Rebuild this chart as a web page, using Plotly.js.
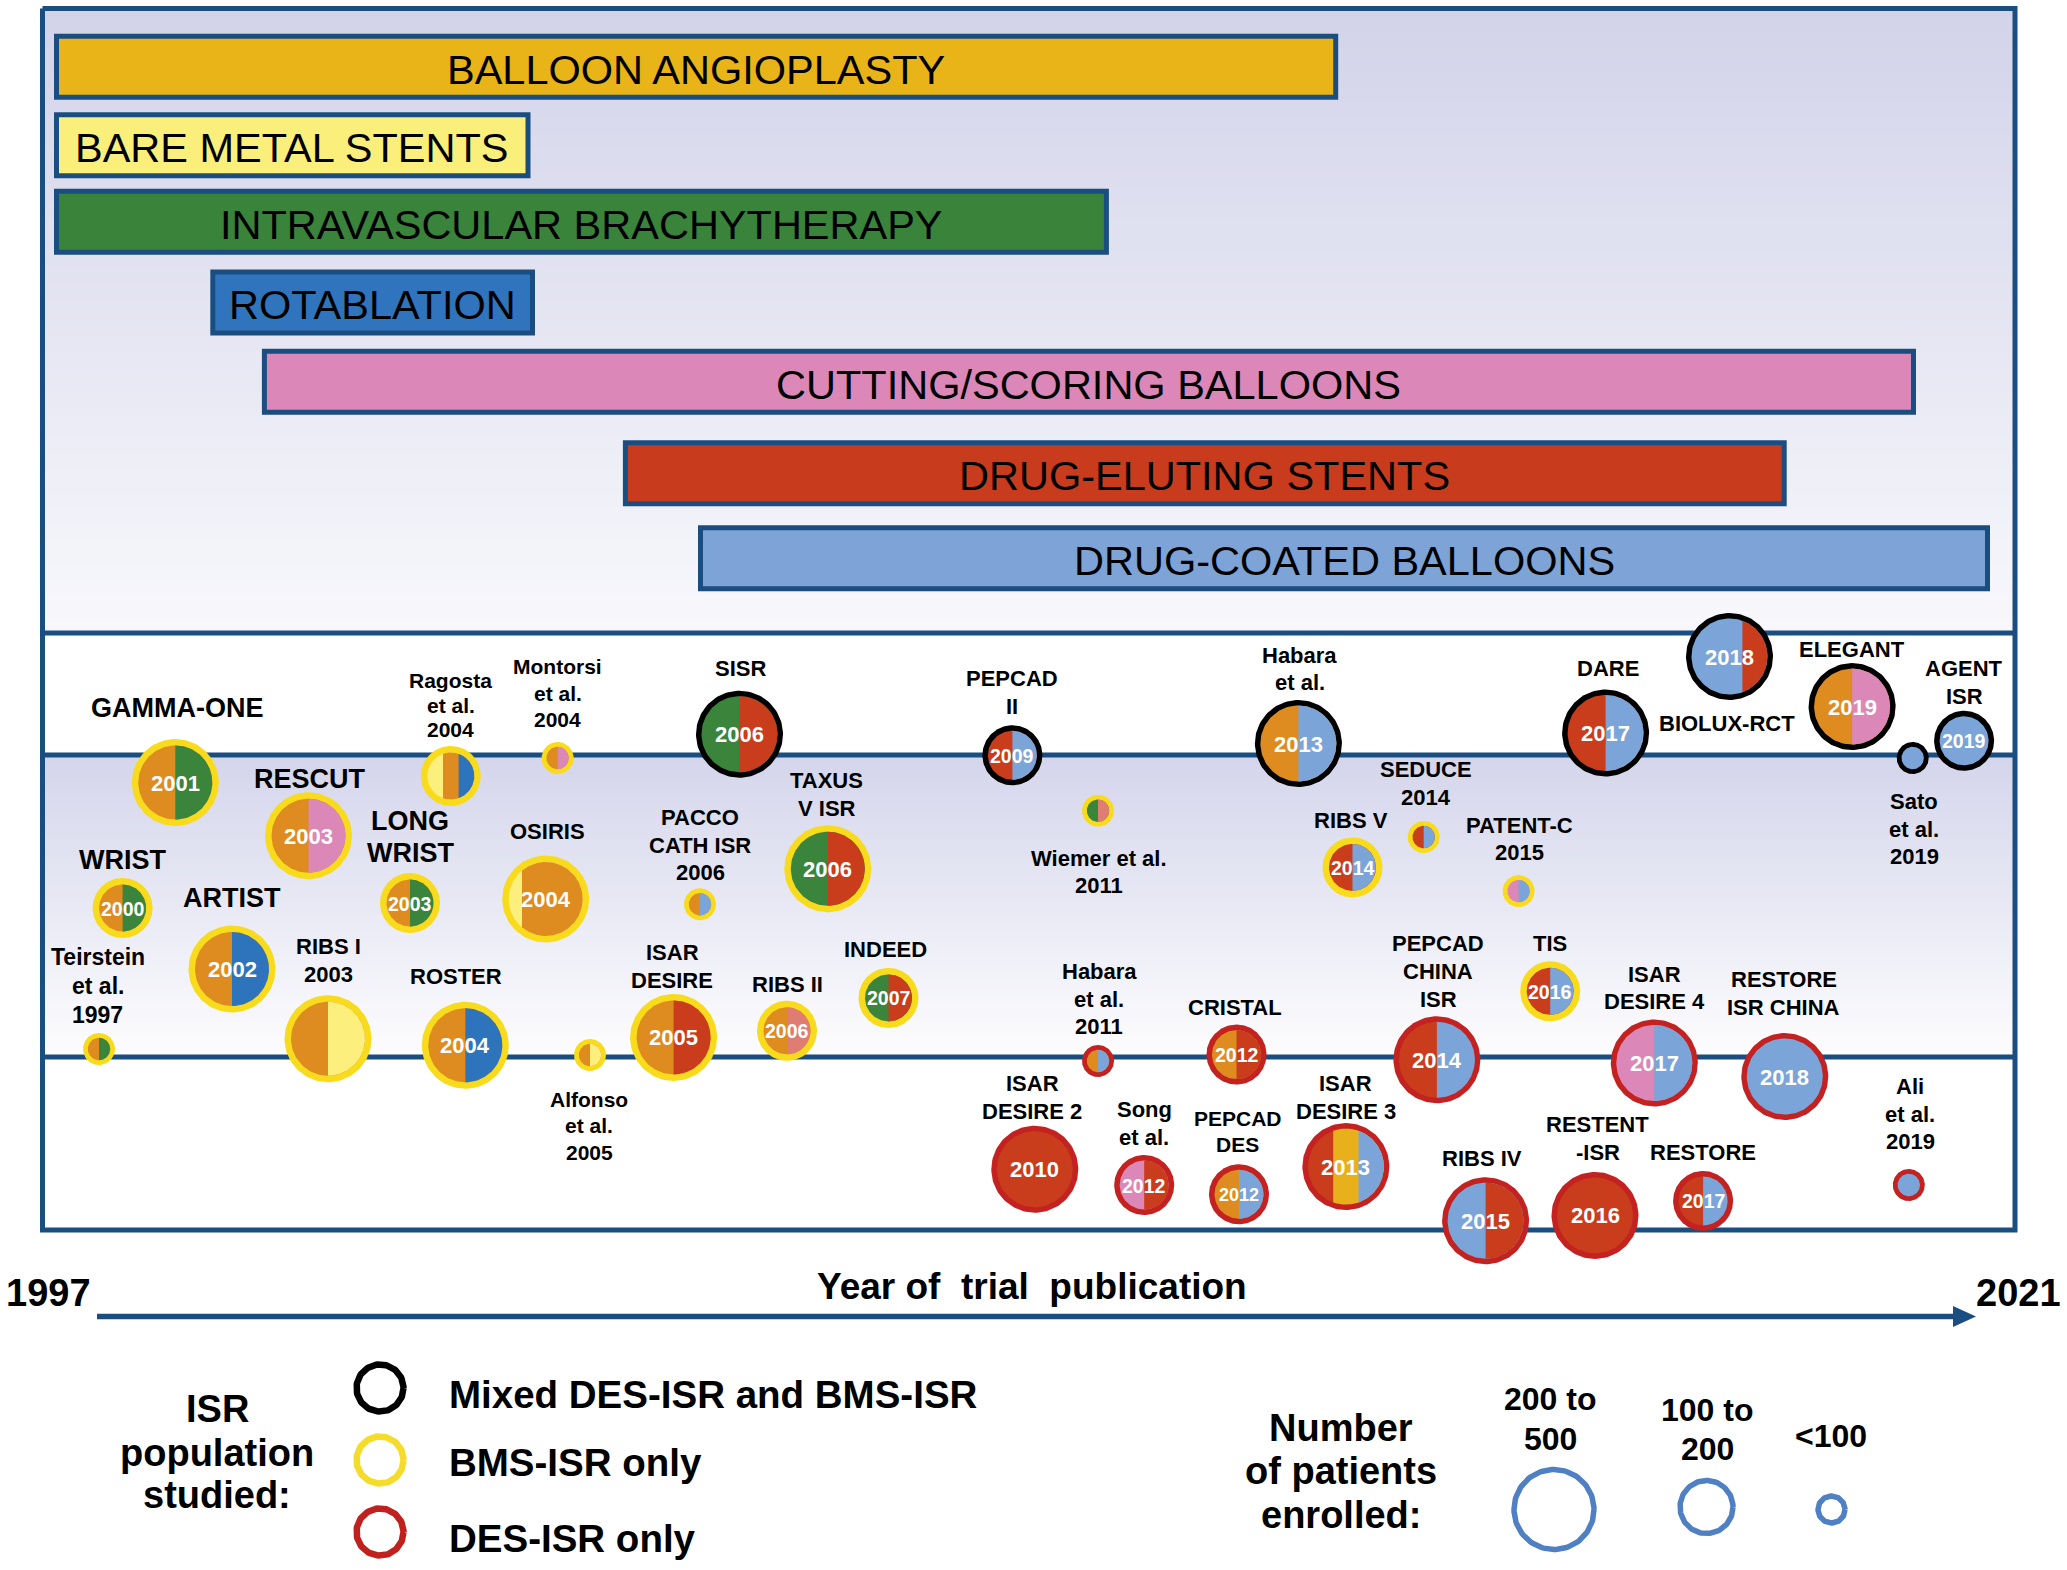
<!DOCTYPE html>
<html><head><meta charset="utf-8">
<script src="https://cdn.plot.ly/plotly-3.0.1.min.js"></script>
<style>html,body{margin:0;padding:0;background:#fff;}#chart{width:2067px;height:1570px;}</style>
</head><body><div id="chart"></div>
<script>
// ================= DATA =================
const therapies = ['BALLOON ANGIOPLASTY','BARE METAL STENTS','INTRAVASCULAR BRACHYTHERAPY','ROTABLATION','CUTTING/SCORING BALLOONS','DRUG-ELUTING STENTS','DRUG-COATED BALLOONS'];
const therapyColors = ['#e8b417','#fbef7c','#3a833a','#2f74bc','#db87b7','#c83b1c','#7da3d7'];
// span of each therapy along the timeline (layout units)
const therapyStart = [56.5, 56.5, 56.5, 212.8, 264.4, 625.4, 700.5];
const therapyEnd   = [1335.7, 528, 1106.4, 532.5, 1913.5, 1784.2, 1987.5];

const studyLabels = ['Teirstein\net al.\n1997','WRIST','GAMMA-ONE','ARTIST','RESCUT','RIBS I\n2003','LONG\nWRIST','Ragosta\net al.\n2004','ROSTER','OSIRIS',
 'Montorsi\net al.\n2004','Alfonso\net al.\n2005','ISAR\nDESIRE','PACCO\nCATH ISR\n2006','SISR','RIBS II','TAXUS\nV ISR','INDEED','PEPCAD\nII','Wiemer et al.\n2011',
 'Habara\net al.\n2011','ISAR\nDESIRE 2','Song\net al.','CRISTAL','PEPCAD\nDES','Habara\net al.','ISAR\nDESIRE 3','RIBS V','SEDUCE\n2014','PEPCAD\nCHINA\nISR',
 'PATENT-C\n2015','RIBS IV','TIS','RESTENT\n-ISR','DARE','ISAR\nDESIRE 4','RESTORE','BIOLUX-RCT','RESTORE\nISR CHINA','ELEGANT',
 'Sato\net al.\n2019','AGENT\nISR','Ali\net al.\n2019'];
const studyYears = [1997,2000,2001,2002,2003,2003,2003,2004,2004,2004,
 2004,2005,2005,2006,2006,2006,2006,2007,2009,2011,
 2011,2010,2012,2012,2012,2013,2013,2014,2014,2014,
 2015,2015,2016,2016,2017,2017,2017,2018,2018,2019,
 2019,2019,2019];
const studyPopulation = ['BMS','BMS','BMS','BMS','BMS','BMS','BMS','BMS','BMS','BMS',
 'BMS','BMS','BMS','BMS','Mixed','BMS','BMS','BMS','Mixed','BMS',
 'DES','DES','DES','DES','DES','Mixed','DES','BMS','BMS','DES',
 'BMS','DES','BMS','DES','Mixed','DES','DES','Mixed','DES','Mixed',
 'Mixed','Mixed','DES'];
const studyEnrolled = ['<100','100-200','200-500','200-500','200-500','200-500','100-200','100-200','200-500','200-500',
 '<100','<100','200-500','<100','200-500','100-200','200-500','100-200','100-200','<100',
 '<100','200-500','100-200','100-200','100-200','200-500','200-500','100-200','<100','200-500',
 '<100','200-500','100-200','200-500','200-500','200-500','100-200','200-500','200-500','200-500',
 '<100','100-200','<100'];
// treatment arms, left to right
const studyArms = [['orange','green'],['orange','green'],['orange','green'],['orange','blue'],['orange','pink'],['orange','yellow'],['orange','green'],['yellow','orange','blue'],['orange','blue'],['yellow','orange'],
 ['orange','pink'],['orange','yellow'],['orange','red'],['orange','lightblue'],['green','red'],['orange','salmon'],['green','red'],['green','red'],['red','lightblue'],['green','salmon'],
 ['orange','lightblue'],['red'],['pink','red'],['orange','red'],['orange','lightblue'],['orange','lightblue'],['red','gold','lightblue'],['red','lightblue'],['red','lightblue'],['red','lightblue'],
 ['pink','lightblue'],['lightblue','red'],['red','lightblue'],['red'],['red','lightblue'],['pink','lightblue'],['red','lightblue'],['lightblue','red'],['lightblue'],['orange','pink'],
 ['lightblue'],['lightblue'],['lightblue']];
const studyArmShares = {9:[0.18,0.82], 37:[0.67,0.33]};
const yearInside = [false,true,true,true,true,false,true,false,true,true,
 false,false,true,false,true,true,true,true,true,false,
 false,true,true,true,true,true,true,true,false,true,
 false,true,true,true,true,true,true,true,true,true,
 false,true,false];

const axisYears = [1997, 2021];
const axisTitle = 'Year of  trial  publication';
const populationTitle = ['ISR','population','studied:'];
const populationTypes = ['Mixed','BMS','DES'];
const populationNames = ['Mixed DES-ISR and BMS-ISR','BMS-ISR only','DES-ISR only'];
const sizeTitle = ['Number','of patients','enrolled:'];
const sizeClasses = ['200-500','100-200','<100'];
const sizeNames = [['200 to','500'],['100 to','200'],['<100']];

// ================= LAYOUT / STYLE =================
const W = 2067, H = 1570;
const FONT = 'Liberation Sans, Arial, Helvetica, sans-serif';
const frameColor = '#1b4e80';
const palette = {orange:'#de8b1f', green:'#3b843b', blue:'#2e74bd', pink:'#db88b8', yellow:'#fcef7d', red:'#c93c1c', lightblue:'#7ba4d8', salmon:'#e07d72', gold:'#e8b11c'};
const ringColor = {Mixed:'#000000', BMS:'#f8db1c', DES:'#c42121'};
const legendRingColor = {Mixed:'#000000', BMS:'#f6dc2a', DES:'#c0201e'};
const ringWidth = {Mixed:5.5, BMS:6.5, DES:5.5};
const outerR = {'200-500':43.5, '100-200':30, '<100':16};
const yearSize = {'200-500':22, '100-200':19.5, '<100':16};
const therapyRow = [66.7, 145.3, 221.8, 302.4, 381.8, 473.3, 558.2];
const studyX = [99,122.6,175.3,232,308.5,328,410,450.8,465.3,545.7,
 557.6,590,673.6,700,739.5,787,827.8,888.5,1012.4,1098,
 1098,1034.8,1144.2,1236.5,1239,1298.4,1345.9,1352.5,1423.7,1436.9,
 1518.6,1485.6,1550.2,1595,1605.6,1654.3,1703.1,1729.5,1784.8,1852.1,
 1912.7,1964.1,1908.8];
const studyY = [1049,908,782.5,969,835.7,1038.7,903,776,1045.3,899,
 758,1055,1037.4,904.3,734.2,1030.8,868.7,997.9,755.3,810.7,
 1061,1169.2,1185,1054.6,1194.3,743.5,1166.6,867.4,837,1059.8,
 891.1,1220.7,991.3,1215.4,733,1063,1200.9,656.5,1076.5,706.6,
 758,740.8,1185];
const labelX = [97.5,122.6,176.6,232,309.8,328.2,410,450.8,456,547,
 557.6,589.2,672.3,700,740.8,787,826.5,885.8,1012.4,1099.4,
 1099.4,1032.2,1144.2,1235.2,1237.8,1299.8,1345.9,1351.2,1426.3,1438.2,
 1519.9,1481.7,1550.2,1597.7,1608.2,1654.3,1703.1,1726.9,1783.5,1852.1,
 1914,1964.1,1910];
const labelY = [986,859.5,707.5,897.7,779,960.3,837,705,976.8,831.8,
 693.4,1125.7,966.5,845,668.3,984.7,794.2,949,692.7,872,
 999.2,1097.4,1123.8,1007.1,1131.7,669,1097.4,820,783.7,971.5,
 839,1158.7,943.8,1138.5,668.3,988,1152.5,723.7,993.3,649.9,
 829.2,682.2,1114];
const labelSize = [23,27,27,27,27,22,27,21,22,22,
 21,21,22,22,22,22,22,22,22,22,
 22,22,22,22,21,22,22,22,22,22,
 22,22,22,22,22,22,22,22,22,22,
 22,22,22];
const labelGapOverride = {7:24.5, 6:32};

// ================= BUILD =================
const traces = [];
const annotations = [];
const frameX0 = 42.5, frameX1 = 2015, frameY0 = 8.5, frameY1 = 1230;
const sepY = [633, 755, 1057];

function band(y0, y1, c0, c1, n) {
  const ye = [], z = [];
  for (let i = 0; i <= n; i++) ye.push(y0 + (y1 - y0) * i / n);
  for (let i = 0; i < n; i++) z.push([(i + 0.5) / n]);
  return {type:'heatmap', x:[frameX0, frameX1], y:ye, z:z, zmin:0, zmax:1,
    colorscale:[[0,c0],[1,c1]], showscale:false, hoverinfo:'skip', zsmooth:false};
}
traces.push(band(frameY0, sepY[0], '#d2d3e9', '#f8f8fc', 80));
traces.push(band(sepY[1], sepY[2], '#d4d5eb', '#fdfdfe', 60));

function text(x, y, t, size, opts) {
  annotations.push(Object.assign({x:x, y:y, xref:'x', yref:'y', text:t, showarrow:false,
    xanchor:'center', yanchor:'middle', font:{family:FONT, size:size, color:'#000'}}, opts || {}));
}

// therapy bars
traces.push({type:'bar', orientation:'h', y:therapyRow, base:therapyStart,
  x:therapyEnd.map((e,i)=>e-therapyStart[i]), width:61,
  marker:{color:therapyColors, line:{color:frameColor, width:5}}, hoverinfo:'skip'});
therapies.forEach((t, i) => text((therapyStart[i] + therapyEnd[i]) / 2, therapyRow[i] + 2.5, t, 41.5));

// frame and separators
const fx = [frameX0, frameX1, frameX1, frameX0, frameX0, null];
const fy = [frameY0, frameY0, frameY1, frameY1, frameY0, null];
sepY.forEach(y => { fx.push(frameX0, frameX1, null); fy.push(y, y, null); });
traces.push({type:'scatter', mode:'lines', x:fx, y:fy, line:{color:frameColor, width:5}, hoverinfo:'skip'});

// time arrow
traces.push({type:'scatter', mode:'lines', x:[97,1957], y:[1316.5,1316.5], line:{color:frameColor, width:5.5}, hoverinfo:'skip'});
traces.push({type:'scatter', mode:'lines', x:[1953,1976,1953,1953], y:[1306,1316.5,1327,1306], fill:'toself', fillcolor:frameColor, line:{width:0,color:frameColor}, hoverinfo:'skip'});

function circlePts(cx, cy, r, n) {
  const xs = [], ys = [];
  for (let i = 0; i <= n; i++) { const t = 2*Math.PI*i/n; xs.push(cx + r*Math.cos(t)); ys.push(cy + r*Math.sin(t)); }
  return [xs, ys];
}
function stripPts(cx, cy, r, a, b, n) {
  const cl = v => Math.max(-1, Math.min(1, v));
  const tl = Math.acos(cl((-r + 2*r*a) / r)), tr = Math.acos(cl((-r + 2*r*b) / r));
  const xs = [], ys = [];
  for (let i = 0; i <= n; i++) { const t = tl + (tr - tl)*i/n; xs.push(cx + r*Math.cos(t)); ys.push(cy - r*Math.sin(t)); }
  for (let i = 0; i <= n; i++) { const t = tr + (tl - tr)*i/n; xs.push(cx + r*Math.cos(t)); ys.push(cy + r*Math.sin(t)); }
  xs.push(xs[0]); ys.push(ys[0]);
  return [xs, ys];
}
function poly(p, color) {
  return {type:'scatter', mode:'lines', x:p[0], y:p[1], fill:'toself', fillcolor:color, line:{width:0, color:color}, hoverinfo:'skip'};
}
function ring(p, color, w) {
  return {type:'scatter', mode:'lines', x:p[0], y:p[1], line:{width:w, color:color}, hoverinfo:'skip'};
}

studyLabels.forEach((lab, i) => {
  const cx = studyX[i], cy = studyY[i];
  const cls = studyEnrolled[i], pop = studyPopulation[i];
  const R = outerR[cls];
  const w = cls === '<100' ? 4.8 : ringWidth[pop];
  const r = R - w;
  traces.push(poly(circlePts(cx, cy, R, 120), ringColor[pop]));
  const arms = studyArms[i];
  const shares = studyArmShares[i] || arms.map(() => 1 / arms.length);
  let cum = 0;
  arms.forEach((arm, k) => {
    if (k === 0) traces.push(poly(circlePts(cx, cy, r, 120), palette[arm]));
    else traces.push(poly(stripPts(cx, cy, r, cum, 1, 60), palette[arm]));
    cum += shares[k];
  });
  if (yearInside[i]) {
    const ys = i === 24 ? 18 : yearSize[cls];
    text(cx, cy + 0.5, '<b>' + studyYears[i] + '</b>', ys, {font:{family:FONT, size:ys, color:'#ffffff'}});
  }
  const lines = lab.split('\n');
  const s = labelSize[i];
  const gap = labelGapOverride[i] || s * 1.26;
  lines.forEach((ln, k) => {
    text(labelX[i], labelY[i] + (k - (lines.length - 1) / 2) * gap, '<b>' + ln + '</b>', s);
  });
});

// axis texts
text(48, 1292.5, '<b>' + axisYears[0] + '</b>', 38);
text(2018, 1292.5, '<b>' + axisYears[1] + '</b>', 38);
text(1032, 1286, '<b>' + axisTitle + '</b>', 37);

// population legend
const popTitleY = [1409, 1453, 1495];
populationTitle.forEach((t, k) => text(217, popTitleY[k], '<b>' + t + '</b>', 38));
const popLegY = [1388, 1460, 1532];
const popTextY = [1394, 1462, 1538];
populationTypes.forEach((p, k) => {
  traces.push(ring(circlePts(380, popLegY[k], 23.5, 120), legendRingColor[p], 6.5));
  text(447, popTextY[k], '<b>' + populationNames[k] + '</b>', 38.5, {xanchor:'left'});
});

// size legend
const sizeTitleY = [1428, 1471, 1515];
sizeTitle.forEach((t, k) => text(1341, sizeTitleY[k], '<b>' + t + '</b>', 38));
const sizeLegX = [1554, 1706.5, 1831.5];
const sizeLegY = [1509.5, 1507, 1509.5];
const sizeLegR = {'200-500':40, '100-200':26.5, '<100':13.5};
const sizeTextX = [1550, 1707, 1831];
const sizeTextY = [[1399, 1438.5], [1410, 1448.5], [1436]];
sizeClasses.forEach((c, k) => {
  traces.push(ring(circlePts(sizeLegX[k], sizeLegY[k], sizeLegR[c], 120), '#4f80c3', 5.5));
  sizeNames[k].forEach((t, j) => text(sizeTextX[k], sizeTextY[k][j], '<b>' + t + '</b>', 32));
});

const layout = {
  width: W, height: H, autosize: false,
  margin: {l:0, r:0, t:0, b:0, pad:0},
  paper_bgcolor: '#ffffff', plot_bgcolor: '#ffffff',
  showlegend: false, hovermode: false, barmode: 'overlay',
  xaxis: {range:[0, W], visible:false, fixedrange:true},
  yaxis: {range:[H, 0], visible:false, fixedrange:true},
  annotations: annotations
};
Plotly.newPlot('chart', traces, layout, {staticPlot:true, displayModeBar:false});
</script>
</body></html>
